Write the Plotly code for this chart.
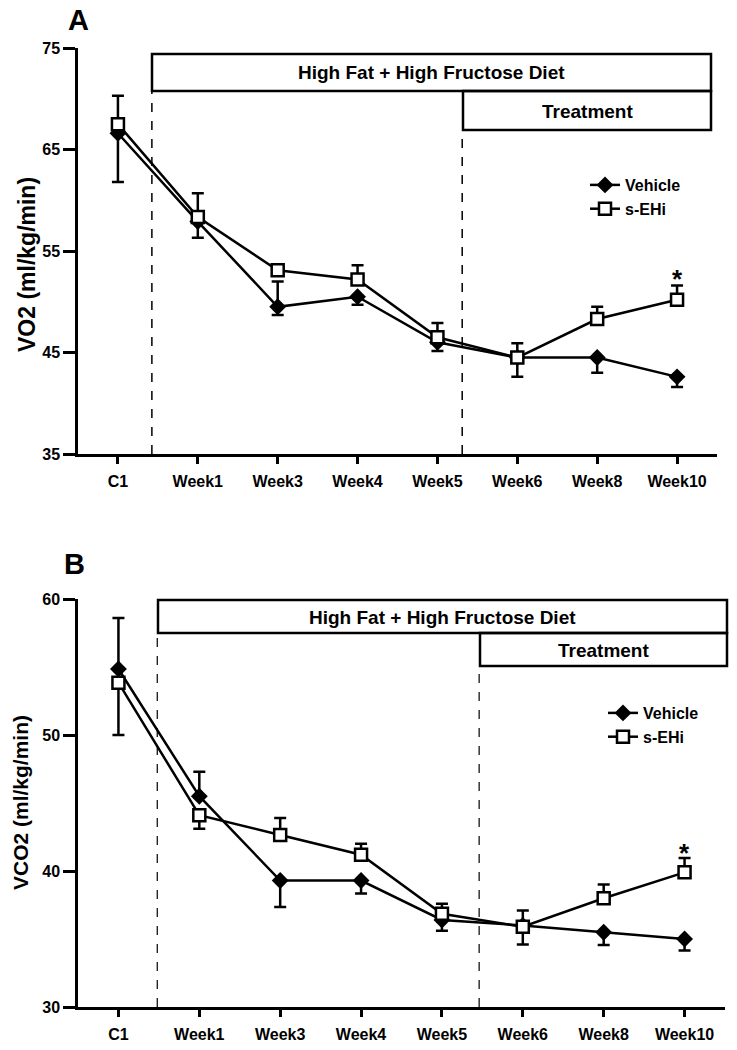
import plotly.graph_objects as go

weeks = ["C1", "Week1", "Week3", "Week4", "Week5", "Week6", "Week8", "Week10"]

# Panel A: VO2
a_vehicle = [66.6, 57.9, 49.5, 50.5, 46.0, 44.5, 44.5, 42.6]
a_vehicle_up = [0, 0, 2.5, 0, 0, 0, 0, 0]
a_vehicle_dn = [4.8, 1.6, 0.8, 0.8, 0.85, 0, 1.5, 1.0]
a_sehi = [67.5, 58.35, 53.1, 52.2, 46.5, 44.5, 48.3, 50.2]
a_sehi_up = [2.8, 2.35, 0, 1.4, 1.4, 1.4, 1.2, 1.4]
a_sehi_dn = [0, 0, 0, 0, 0, 1.9, 0, 0]

# Panel B: VCO2
b_vehicle = [54.85, 45.5, 39.3, 39.3, 36.4, 36.0, 35.5, 35.0]
b_vehicle_up = [3.75, 1.8, 0, 0, 0, 0, 0, 0]
b_vehicle_dn = [0, 0, 1.95, 0.95, 0.8, 0, 0.95, 0.85]
b_sehi = [53.85, 44.1, 42.65, 41.2, 36.85, 35.9, 38.0, 39.9]
b_sehi_up = [0, 0, 1.25, 0.8, 0.75, 1.2, 1.0, 1.05]
b_sehi_dn = [3.85, 1.0, 0, 0, 0, 1.3, 0, 0]

a_yticks = [35, 45, 55, 65, 75]
b_yticks = [30, 40, 50, 60]

W, H = 737, 1050
FONT = "Liberation Sans, Arial, sans-serif"


def px(x):
    return x / W


def py(y):
    return 1 - y / H


fig = go.Figure()


def add_pair(vals_v, up_v, dn_v, vals_s, up_s, dn_s, xa, ya, legend):
    fig.add_trace(go.Scatter(
        x=weeks, y=vals_v, name="Vehicle", mode="lines+markers",
        xaxis=xa, yaxis=ya, legend=legend,
        line=dict(color="black", width=2.5),
        marker=dict(symbol="diamond", size=13, color="black"),
        error_y=dict(type="data", symmetric=False, array=up_v, arrayminus=dn_v,
                     color="black", thickness=2.5, width=6),
    ))
    fig.add_trace(go.Scatter(
        x=weeks, y=vals_s, name="s-EHi", mode="lines+markers",
        xaxis=xa, yaxis=ya, legend=legend,
        line=dict(color="black", width=2.5),
        marker=dict(symbol="square", size=12, color="white",
                    line=dict(color="black", width=2.5)),
        error_y=dict(type="data", symmetric=False, array=up_s, arrayminus=dn_s,
                     color="black", thickness=2.5, width=6),
    ))


add_pair(a_vehicle, a_vehicle_up, a_vehicle_dn, a_sehi, a_sehi_up, a_sehi_dn, "x", "y", "legend")
add_pair(b_vehicle, b_vehicle_up, b_vehicle_dn, b_sehi, b_sehi_up, b_sehi_dn, "x2", "y2", "legend2")

tickfont = dict(family=FONT, size=16, color="black", weight="bold")
axis_common = dict(showline=True, linecolor="black", linewidth=2.5, ticks="outside",
                   tickcolor="black", tickwidth=2.5, showgrid=False, zeroline=False,
                   tickfont=tickfont, automargin=False)

fig.update_layout(
    width=W, height=H, template="none",
    paper_bgcolor="white", plot_bgcolor="white",
    margin=dict(l=0, r=0, t=0, b=0),
    xaxis=dict(domain=[px(78), px(717)], anchor="y", range=[-0.5, 7.5], ticklen=7,
               type="category", ticklabelstandoff=4, **axis_common),
    yaxis=dict(domain=[py(454), py(48)], anchor="x", range=[35, 75], tickvals=a_yticks,
               ticklen=12, **axis_common),
    xaxis2=dict(domain=[px(78), px(725)], anchor="y2", range=[-0.5, 7.5], ticklen=7,
                type="category", ticklabelstandoff=4, **axis_common),
    yaxis2=dict(domain=[py(1007), py(599)], anchor="x2", range=[30, 60], tickvals=b_yticks,
                ticklen=12, **axis_common),
    legend=dict(x=px(585), y=py(168), xanchor="left", yanchor="top",
                font=dict(family=FONT, size=16, color="black", weight="bold"),
                bgcolor="rgba(0,0,0,0)", itemwidth=30),
    legend2=dict(x=px(603), y=py(696), xanchor="left", yanchor="top",
                 font=dict(family=FONT, size=16, color="black", weight="bold"),
                 bgcolor="rgba(0,0,0,0)", itemwidth=30),
    showlegend=True,
)

box_line = dict(color="black", width=2.5)
shapes = [
    # Panel A boxes
    dict(type="rect", xref="paper", yref="paper", x0=px(152), x1=px(711), y0=py(91), y1=py(54), line=box_line),
    dict(type="rect", xref="paper", yref="paper", x0=px(463), x1=px(711), y0=py(130), y1=py(91), line=box_line),
    dict(type="line", xref="x", yref="paper", x0=0.425, x1=0.425, y0=py(454), y1=py(91),
         line=dict(color="black", width=1.5, dash="dash")),
    dict(type="line", xref="x", yref="paper", x0=4.31, x1=4.31, y0=py(454), y1=py(130),
         line=dict(color="black", width=1.5, dash="dash")),
    # Panel B boxes
    dict(type="rect", xref="paper", yref="paper", x0=px(158), x1=px(727), y0=py(633), y1=py(600), line=box_line),
    dict(type="rect", xref="paper", yref="paper", x0=px(480), x1=px(727), y0=py(666), y1=py(633), line=box_line),
    dict(type="line", xref="x2", yref="paper", x0=0.48, x1=0.48, y0=py(1007), y1=py(633),
         line=dict(color="black", width=1.2, dash="dash")),
    dict(type="line", xref="x2", yref="paper", x0=4.46, x1=4.46, y0=py(1007), y1=py(666),
         line=dict(color="black", width=1.2, dash="dash")),
]
fig.update_layout(shapes=shapes)


def ann(text, x, y, size, xref="paper", yref="paper", angle=0):
    fig.add_annotation(text=text, x=x, y=y, xref=xref, yref=yref, showarrow=False,
                       textangle=angle, xanchor="center", yanchor="middle",
                       font=dict(family=FONT, size=size, color="black", weight="bold"))


ann("High Fat + High Fructose Diet", px(431.5), py(72), 19)
ann("Treatment", px(587), py(111), 19)
ann("High Fat + High Fructose Diet", px(442), py(617), 19)
ann("Treatment", px(603), py(650), 19)
ann("A", px(78), py(20), 29)
ann("B", px(74), py(564), 29)
ann("VO2 (ml/kg/min)", px(27), py(265), 23, angle=-90)
ann("VCO2 (ml/kg/min)", px(20), py(803), 21, angle=-90)
ann("*", "Week10", 52.2, 26, xref="x", yref="y")
ann("*", "Week10", 41.3, 26, xref="x2", yref="y2")

fig.write_html("out.html", config={"displayModeBar": False},
               post_script="document.body.style.margin='0';document.body.style.padding='0';")
